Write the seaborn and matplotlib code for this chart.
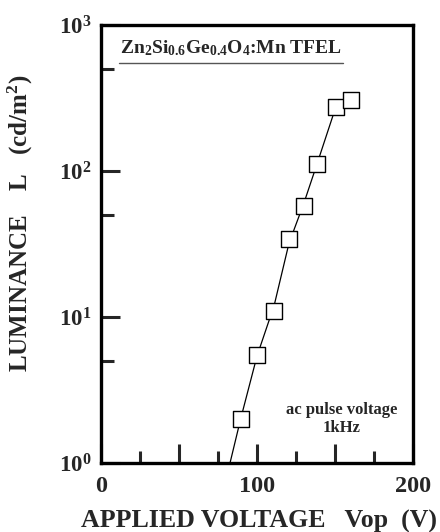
import matplotlib
matplotlib.use("Agg")
import matplotlib.pyplot as plt
import seaborn as sns
import pandas as pd
from matplotlib.ticker import FixedLocator, FixedFormatter, NullFormatter

# measured points
voltage = [89.5, 100, 111, 120.5, 130, 138.5, 150.5, 160]
luminance = [2.0, 5.5, 11.0, 34.0, 57.5, 112.0, 274.0, 306.0]

# fitted curve as drawn in the figure
fit_voltage = [82.7, 89.5, 100, 111, 120.5, 130, 138.5, 150.5, 160]
fit_luminance = [1.0, 2.0, 5.4, 12.0, 32.0, 60.0, 112.0, 274.0, 306.0]

x_major = [0, 50, 100, 150, 200]
x_minor = [25, 75, 125, 175]
x_labels = ["0", "", "100", "", "200"]
y_major = [1, 10, 100, 1000]
y_minor = [5, 50, 500]
y_labels = ["$10^{0}$", "$10^{1}$", "$10^{2}$", "$10^{3}$"]

sns.set_style("ticks")
plt.rcParams["font.family"] = ["Liberation Serif", "DejaVu Serif"]
plt.rcParams["font.weight"] = "bold"
plt.rcParams["mathtext.fontset"] = "custom"
plt.rcParams["mathtext.rm"] = "Liberation Serif:bold"
plt.rcParams["mathtext.it"] = "Liberation Serif:bold"
plt.rcParams["mathtext.bf"] = "Liberation Serif:bold"
plt.rcParams["mathtext.default"] = "rm"

fig = plt.figure(figsize=(4.4, 5.32), dpi=100)
ax = fig.add_axes([101 / 440, 69 / 532, 312 / 440, 438 / 532])

df_fit = pd.DataFrame({"V": fit_voltage, "L": fit_luminance})
df_pts = pd.DataFrame({"V": voltage, "L": luminance})

sns.lineplot(data=df_fit, x="V", y="L", ax=ax, color="black", linewidth=0.9,
             sort=False, estimator=None, zorder=2)
sns.scatterplot(data=df_pts, x="V", y="L", ax=ax, marker="s", s=125,
                facecolor="white", edgecolor="black", linewidth=1.0, zorder=3)

ax.set_yscale("log")
ax.set_xlim(0, 200)
ax.set_ylim(1, 1000)

ax.xaxis.set_major_locator(FixedLocator(x_major))
ax.xaxis.set_major_formatter(FixedFormatter(x_labels))
ax.xaxis.set_minor_locator(FixedLocator(x_minor))
ax.yaxis.set_major_locator(FixedLocator(y_major))
ax.yaxis.set_major_formatter(FixedFormatter(y_labels))
ax.yaxis.set_minor_locator(FixedLocator(y_minor))
ax.yaxis.set_minor_formatter(NullFormatter())

for s in ax.spines.values():
    s.set_linewidth(2.4)
    s.set_color("black")

ax.tick_params(which="major", direction="in", length=13.5, width=2.2,
               labelsize=17.5, pad=9, top=False, right=False)
ax.tick_params(which="minor", direction="in", length=9, width=2.2,
               top=False, right=False)
ax.tick_params(axis="y", which="major", labelsize=16.5, pad=7)

ax.set_xlabel("APPLIED VOLTAGE   Vop  (V)", fontsize=18.6, fontweight="bold")
ax.set_ylabel("LUMINANCE    L   (cd/m$^2$)", fontsize=18, fontweight="bold")
ax.xaxis.set_label_coords(0.507, -0.108)
ax.yaxis.set_label_coords(-0.21, 0.546)

ax.text(0.061, 0.947, "Zn$_2$Si$_{0.6}$Ge$_{0.4}$O$_4$:Mn TFEL",
        transform=ax.transAxes, fontsize=14, fontweight="bold",
        ha="left", va="center")
ax.plot([0.058, 0.776], [0.913, 0.913], transform=ax.transAxes,
        color="#555555", linewidth=1.0)

ax.text(0.772, 0.100, "ac pulse voltage\n1kHz", transform=ax.transAxes,
        fontsize=12, fontweight="bold", ha="center", va="center",
        linespacing=1.15)

fig.savefig("out.png", dpi=100)
